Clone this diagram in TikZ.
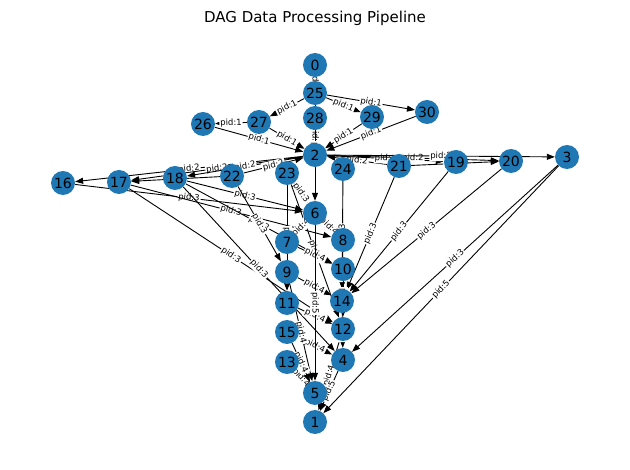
\documentclass[tikz,border=0pt]{standalone}
\usepackage{fontspec}
\setmainfont{DejaVu Sans}
\usetikzlibrary{arrows.meta}
\definecolor{nodeblue}{RGB}{31,119,180}
\pgfdeclarelayer{edges}
\pgfsetlayers{edges,main}
\begin{document}
\begin{tikzpicture}[x=1pt,y=-1pt,
  vtx/.style={circle,fill=nodeblue,minimum size=24pt,inner sep=0pt,font=\fontsize{14}{14}\selectfont},
  edge/.style={-{Triangle[length=8pt,width=6pt]},line width=0.9pt,black},
  lbl/.style={midway,sloped,fill=white,inner sep=1pt,font=\fontsize{8.5}{8.5}\selectfont}]
\useasboundingbox (0,0) rectangle (630,470);
\node[font=\fontsize{15}{15}\selectfont] (title) at (315,18) {DAG Data Processing Pipeline};
% nodes
\node[vtx] (n0) at (315,65) {0};
\node[vtx] (n25) at (315,93) {25};
\node[vtx] (n28) at (315,118) {28};
\node[vtx] (n27) at (259,122) {27};
\node[vtx] (n26) at (203,124) {26};
\node[vtx] (n29) at (372,117) {29};
\node[vtx] (n30) at (427,112) {30};
\node[vtx] (n2) at (315,155) {2};
\node[vtx] (n23) at (287,173) {23};
\node[vtx] (n24) at (343,169) {24};
\node[vtx] (n22) at (232,176) {22};
\node[vtx] (n21) at (399,166) {21};
\node[vtx] (n19) at (456,162) {19};
\node[vtx] (n20) at (511,161) {20};
\node[vtx] (n3) at (567,157) {3};
\node[vtx] (n18) at (175,178) {18};
\node[vtx] (n17) at (119,182) {17};
\node[vtx] (n16) at (63,183) {16};
\node[vtx] (n6) at (315,213) {6};
\node[vtx] (n7) at (287,242) {7};
\node[vtx] (n8) at (343,240) {8};
\node[vtx] (n9) at (287,272) {9};
\node[vtx] (n10) at (343,269) {10};
\node[vtx] (n11) at (287,303) {11};
\node[vtx] (n14) at (342,301) {14};
\node[vtx] (n15) at (287,332) {15};
\node[vtx] (n12) at (343,329) {12};
\node[vtx] (n13) at (287,362) {13};
\node[vtx] (n4) at (343,360) {4};
\node[vtx] (n5) at (315,393) {5};
\node[vtx] (n1) at (315,422) {1};
\begin{pgfonlayer}{edges}
% pid:1
\draw[edge] (n0) -- node[lbl]{pid:1} (n25);
\draw[edge] (n25) -- node[lbl]{pid:1} (n27);
\draw[edge] (n27) -- node[lbl]{pid:1} (n26);
\draw[edge] (n25) -- node[lbl]{pid:1} (n29);
\draw[edge] (n25) -- node[lbl]{pid:1} (n30);
\draw[edge] (n26) -- node[lbl]{pid:1} (n2);
\draw[edge] (n27) -- node[lbl]{pid:1} (n2);
\draw[edge] (n28) -- node[lbl]{pid:1} (n2);
\draw[edge] (n29) -- node[lbl]{pid:1} (n2);
\draw[edge] (n30) -- node[lbl]{pid:1} (n2);
\draw[edge] (n25) -- node[lbl]{pid:1} (n6);
% pid:2
\draw[edge] (n2) -- node[lbl]{pid:2} (n16);
\draw[edge] (n2) -- node[lbl]{pid:2} (n17);
\draw[edge] (n2) -- node[lbl]{pid:2} (n18);
\draw[edge] (n22) -- node[lbl]{pid:2} (n2);
\draw[edge] (n22) -- node[lbl]{pid:2} (n17);
\draw[edge] (n21) -- node[lbl]{pid:2} (n2);
\draw[edge] (n2) -- node[lbl]{pid:2} (n19);
\draw[edge] (n2) -- node[lbl]{pid:2} (n20);
\draw[edge] (n21) -- node[lbl]{pid:2} (n20);
\draw[edge] (n2) -- node[lbl]{pid:2} (n3);
% pid:3
\draw[edge] (n16) -- node[lbl]{pid:3} (n6);
\draw[edge] (n18) -- node[lbl]{pid:3} (n6);
\draw[edge] (n17) -- node[lbl]{pid:3} (n8);
\draw[edge] (n18) -- node[lbl]{pid:3} (n10);
\draw[edge] (n22) -- node[lbl]{pid:3} (n9);
\draw[edge] (n17) -- node[lbl]{pid:3} (n12);
\draw[edge] (n18) -- node[lbl]{pid:3} (n4);
\draw[edge] (n23) -- node[lbl]{pid:3} (n6);
\draw[edge] (n23) -- node[lbl]{pid:3} (n11);
\draw[edge] (n23) -- node[lbl]{pid:3} (n12);
\draw[edge] (n21) -- node[lbl]{pid:3} (n14);
\draw[edge] (n19) -- node[lbl]{pid:3} (n14);
\draw[edge] (n20) -- node[lbl]{pid:3} (n14);
\draw[edge] (n3) -- node[lbl]{pid:3} (n4);
\draw[edge] (n24) -- node[lbl]{pid:3} (n14);
% pid:4
\draw[edge] (n6) -- node[lbl]{pid:4} (n7);
\draw[edge] (n6) -- node[lbl]{pid:4} (n8);
\draw[edge] (n7) -- node[lbl]{pid:4} (n10);
\draw[edge] (n9) -- node[lbl]{pid:4} (n14);
\draw[edge] (n11) -- node[lbl]{pid:4} (n12);
\draw[edge] (n15) -- node[lbl]{pid:4} (n4);
\draw[edge] (n12) -- node[lbl]{pid:4} (n1);
\draw[edge] (n13) -- node[lbl]{pid:4} (n5);
\draw[edge] (n9) -- node[lbl]{pid:4} (n5);
\draw[edge] (n15) -- node[lbl]{pid:4} (n5);
\draw[edge] (n8) -- node[lbl]{pid:4} (n14);
\draw[edge] (n10) -- node[lbl]{pid:4} (n12);
\draw[edge] (n14) -- node[lbl]{pid:4} (n4);
% pid:5
\draw[edge] (n3) -- node[lbl]{pid:5} (n1);
\draw[edge] (n6) -- node[lbl]{pid:5} (n5);
\draw[edge] (n4) -- node[lbl]{pid:5} (n1);
\end{pgfonlayer}
\end{tikzpicture}
\end{document}
